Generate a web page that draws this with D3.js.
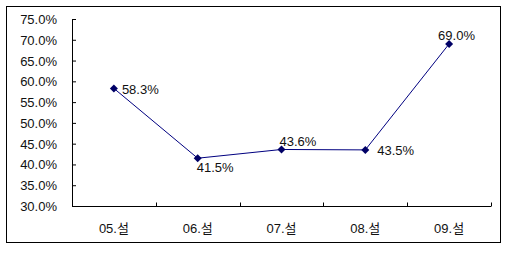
<!DOCTYPE html>
<html>
<head>
<meta charset="utf-8">
<script src="https://cdn.jsdelivr.net/npm/d3@7"></script>
<style>
  body { margin: 0; background: #fff; }
  svg text { font-family: "Liberation Sans", Arial, "Noto Sans CJK KR", sans-serif; font-size: 13px; fill: #111; }
</style>
</head>
<body>
<div id="chart"></div>
<script>
const categories = ["05.설", "06.설", "07.설", "08.설", "09.설"];
const values = [58.3, 41.5, 43.6, 43.5, 69.0];
const yTicks = [30, 35, 40, 45, 50, 55, 60, 65, 70, 75];
// label offsets relative to each point (dx, dy to baseline)
const labelOffsets = [[8, 6], [-1, 14], [-2, -3], [12, 5], [-11, -4]];

const width = 510;
const height = 253;

const svg = d3.select("#chart").append("svg")
    .attr("width", width)
    .attr("height", height);

// outer frame
svg.append("rect")
    .attr("x", 6.5).attr("y", 6.5)
    .attr("width", 494).attr("height", 236)
    .attr("fill", "none")
    .attr("stroke", "#000");

const plotLeft = 72, plotRight = 491, plotTop = 19, plotBottom = 206;

const x = d3.scaleBand().domain(categories).range([plotLeft, plotRight]);
const y = d3.scaleLinear().domain([30, 75]).range([plotBottom, plotTop]);

// y axis
const yAxis = d3.axisRight(y)
    .tickValues(yTicks)
    .tickSize(4)
    .tickFormat("");
svg.append("g")
    .attr("transform", `translate(${plotLeft},0)`)
    .call(yAxis)
    .call(g => g.select(".domain").attr("d", `M0.5,${plotTop}V${plotBottom}`));

svg.append("g")
    .selectAll("text")
    .data(yTicks)
    .enter()
    .append("text")
    .attr("x", 57)
    .attr("y", d => y(d) + 5)
    .attr("text-anchor", "end")
    .text(d => d.toFixed(1) + "%");

// x axis with ticks at category boundaries
const xAxisG = svg.append("g")
    .attr("transform", `translate(0,${plotBottom + 0.5})`);
xAxisG.append("line")
    .attr("x1", plotLeft).attr("x2", plotRight)
    .attr("stroke", "#000");
xAxisG.selectAll("line.tick")
    .data(categories)
    .enter()
    .append("line")
    .attr("class", "tick")
    .attr("x1", d => Math.round(x(d) + x.bandwidth()) + 0.5)
    .attr("x2", d => Math.round(x(d) + x.bandwidth()) + 0.5)
    .attr("y1", 0).attr("y2", -4)
    .attr("stroke", "#000");

svg.append("g")
    .selectAll("text")
    .data(categories)
    .enter()
    .append("text")
    .attr("x", d => x(d) + x.bandwidth() / 2)
    .attr("y", 233)
    .attr("text-anchor", "middle")
    .text(d => d);

// line
const line = d3.line()
    .x((d, i) => x(categories[i]) + x.bandwidth() / 2)
    .y(d => y(d));

svg.append("path")
    .datum(values)
    .attr("d", line)
    .attr("fill", "none")
    .attr("stroke", "#000080")
    .attr("stroke-width", 1);

// diamond markers (square diamond, 8px across)
svg.append("g")
    .selectAll("path")
    .data(values)
    .enter()
    .append("path")
    .attr("d", "M0,-4L4,0L0,4L-4,0Z")
    .attr("transform", (d, i) => `translate(${x(categories[i]) + x.bandwidth() / 2},${y(d)})`)
    .attr("fill", "#000066");

// data labels
svg.append("g")
    .selectAll("text")
    .data(values)
    .enter()
    .append("text")
    .attr("x", (d, i) => x(categories[i]) + x.bandwidth() / 2 + labelOffsets[i][0])
    .attr("y", (d, i) => y(d) + labelOffsets[i][1])
    .text(d => d.toFixed(1) + "%");
</script>
</body>
</html>
